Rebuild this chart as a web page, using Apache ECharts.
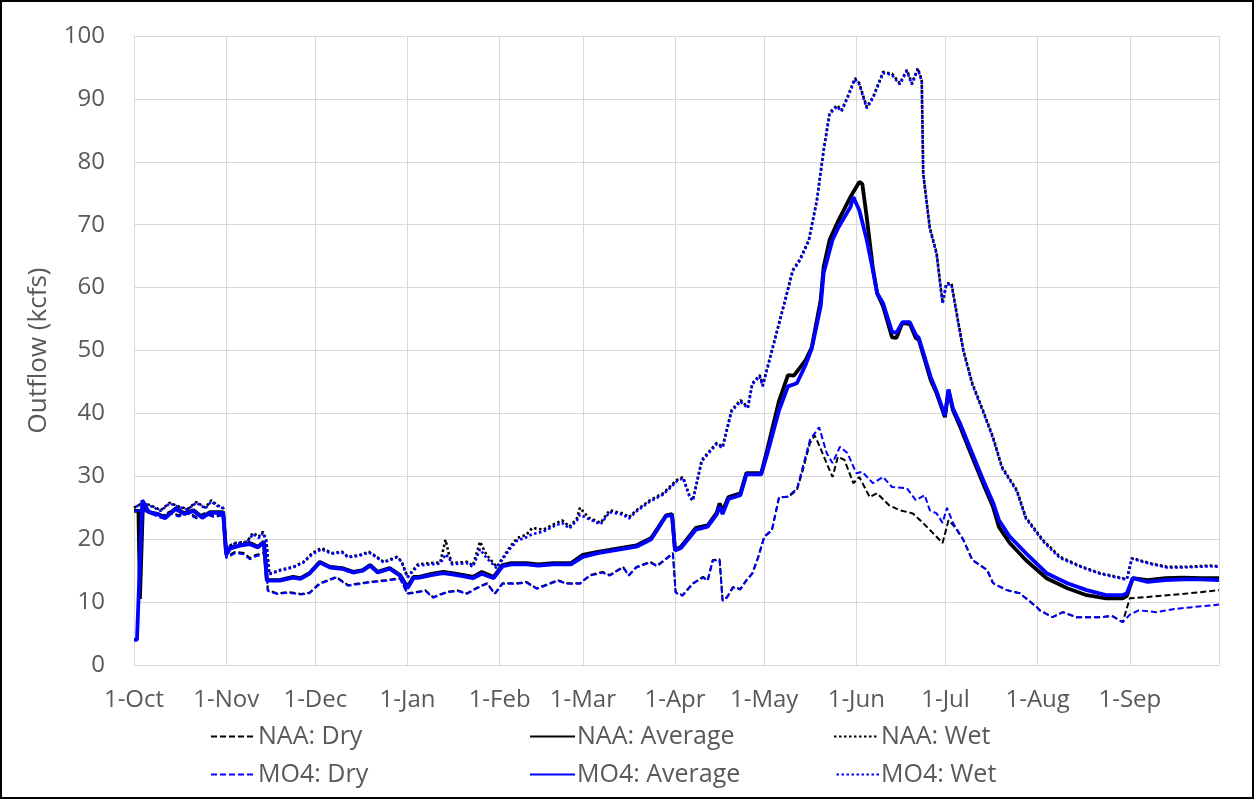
<!DOCTYPE html>
<html>
<head>
<meta charset="utf-8">
<title>Outflow</title>
<script src="https://cdn.jsdelivr.net/npm/echarts@6/dist/echarts.min.js"></script>
<style>
  html, body { margin: 0; padding: 0; background: #fff; }
  #chart { width: 1255px; height: 800px; }
</style>
</head>
<body>
<div id="chart"></div>
<script>
// month start positions (days after 1-Oct) and their labels
const monthDays = [0, 31, 61, 92, 123, 151, 182, 212, 243, 273, 304, 335, 365];
const monthLabels = ['1-Oct', '1-Nov', '1-Dec', '1-Jan', '1-Feb', '1-Mar', '1-Apr', '1-May', '1-Jun', '1-Jul', '1-Aug', '1-Sep', ''];

const seriesNames = ['NAA: Dry', 'NAA: Average', 'NAA: Wet', 'MO4: Dry', 'MO4: Average', 'MO4: Wet'];

// [day, kcfs]
const naaDry = [[0,24.5],[3,24.8],[6,24.2],[9,23.6],[12,24.4],[15,23.8],[18,24.3],[21,23.5],[24,24.2],[27,23.7],[30,24],[31,17.2],[34,18],[37,17.8],[39,17],[41,17.5],[43.4,17.8],[44.4,17.8],[45,11.9],[48,11.4],[52,11.6],[56,11.3],[59,11.5],[62.5,13],[68,14],[72,12.7],[79,13.2],[85,13.5],[89.5,13.8],[92,11.4],[95,11.6],[98,11.9],[100.6,10.8],[105,11.6],[108.6,11.9],[112,11.4],[115,12.2],[118.7,13],[121.4,11.4],[124,13],[129,13],[132,13.2],[135.5,12.2],[140,13],[142.5,13.5],[145.6,13],[150,13],[153.4,14.3],[157.7,14.8],[160,14.3],[164.5,15.6],[166.5,14.3],[169,15.6],[173.6,16.4],[176,15.8],[181.3,17.8],[182.2,11.6],[184.5,11.1],[188,13],[191.4,14],[193,13.5],[194.7,16.7],[197,16.8],[198,10.3],[199.5,10.8],[201.5,12.4],[204,12.1],[206,13.5],[208,14.6],[210,17.2],[212,20.4],[214.6,21.5],[217,26.7],[220,26.7],[223,27.8],[225,31],[227.4,35.3],[229,36.5],[230.7,34.7],[233,32.1],[235,29.9],[236.8,33.1],[239,32.6],[242,28.9],[244,29.9],[247.5,26.7],[250,27.3],[254,25.4],[257.6,24.6],[262,24.1],[265.4,22.6],[268.7,21],[272,19.4],[274,23],[276,22],[279,19.9],[282,16.7],[287,15.1],[289,13],[293.6,11.9],[298,11.4],[303.7,9.2],[304.7,8.7],[309,7.6],[312.5,8.4],[317,7.6],[325,7.6],[329,7.8],[332.6,6.8],[335,10.6],[341,10.8],[347.5,11.1],[355,11.4],[365,11.9]];

const naaAvg = [[0,24.5],[1.5,24.5],[2,10.5],[3,25.5],[5,24.3],[8,24],[10.4,23.5],[14,24.9],[17,24.1],[20,24.6],[23,23.5],[25.6,24.3],[30,24.3],[31,17.8],[32.3,18.6],[35.6,19],[39,19.4],[41.7,18.8],[43.7,19.6],[44.7,13.5],[49,13.5],[53.5,14],[56,13.8],[59,14.6],[62.5,16.4],[66,15.6],[70,15.4],[73.7,14.8],[77,15.1],[79.4,15.9],[82,14.8],[86,15.4],[89.5,14.3],[92,12.4],[94,14],[96,14],[100,14.5],[104,14.8],[107,14.6],[111,14.3],[114,14],[117,14.8],[121,14],[124,15.9],[127,16.2],[132,16.2],[136,16],[141,16.2],[147,16.2],[151,17.5],[156,18],[160,18.3],[165,18.7],[169,19],[174,20.2],[179,23.8],[181,24],[182,18.3],[184,18.8],[189,21.8],[193,22.2],[196,24.2],[197,25.7],[198,24.5],[200,26.7],[204,27.3],[206,30.5],[208,30.5],[211,30.5],[213,34.2],[217,42],[220,46.1],[222,46],[226,48.5],[228,50.5],[231,58],[232,63.3],[234,67.6],[237,70.7],[241,74.4],[244,76.8],[245,76.5],[246.5,71.2],[248.5,63.3],[250,59.1],[252,57],[255,52.1],[256.5,52],[258.5,54.4],[261,54.2],[263,52],[264,51.7],[268,45.3],[270,43.2],[272.8,39.4],[274,43.7],[275.5,40.5],[278,37.8],[281,34.2],[285.6,28.9],[289,25.1],[291,21.9],[294.6,19.4],[300,16.7],[307,13.8],[314,12.2],[320.5,11.1],[327,10.6],[332.6,10.6],[334,11],[336,13.8],[341,13.5],[347,13.8],[353,13.9],[359,13.8],[365,13.8]];

const naaWet = [[0,25],[3,25.8],[6,25.3],[9,24.6],[12,25.8],[15,25.2],[18,24.8],[21,25.9],[24,25],[26,26.2],[28,25.4],[30,25],[31,18.7],[34,19.4],[38,19.6],[40,21],[42,20.4],[43.4,21.2],[44.5,19.8],[45.5,14.5],[49,15.1],[53.5,15.6],[57,16.4],[60,17.8],[63,18.6],[66.5,17.8],[70,18],[72,17.2],[76,17.5],[79,18],[81,17.4],[84,16.4],[88.5,17.2],[90,16.5],[92,14],[95.5,16],[99.6,16.2],[103,16.3],[104.8,19.9],[106,17.5],[107,16.2],[112,16.4],[114,15.8],[116.4,19.6],[118.6,17.5],[122,15.6],[124,17],[126.5,18.8],[129,20.2],[132,20.7],[134,21.8],[137.6,21.5],[141,22.3],[144,23],[146.5,22],[149,23.3],[150,25],[153,23.4],[157,22.6],[160,24.6],[164.5,24.1],[166.5,23.5],[169,24.6],[173.6,26.2],[178,27.3],[182.6,29.4],[184.7,29.9],[187,26.7],[188,26.2],[191,32.6],[196,35.3],[198,34.7],[201,40.5],[204,42.1],[206.5,41],[208,44.8],[210.5,46.1],[211.5,44.5],[214,49],[217,54.4],[219.6,59.1],[221.6,62.8],[224,64.5],[227,67.6],[229.7,73.9],[232,81.9],[234,87.8],[236.5,89],[238,88.2],[240,90.3],[242.5,93.3],[244,92.5],[246.5,88.7],[248.6,90.3],[252,94.3],[255,94],[257.6,92.5],[260,94.6],[261.7,92.5],[263.7,94.9],[265,93],[265.5,78.2],[267.7,69.6],[270,65.5],[272,57.6],[273.3,60.7],[275,60.7],[277,55.3],[279,50.1],[282,44.8],[285.6,40.5],[289,36.2],[292,31.5],[297,27.8],[300,23.5],[305.7,19.9],[311.5,17.2],[319,15.6],[325,14.6],[332.6,13.8],[334,13.7],[335.7,17],[341.7,16.2],[347.5,15.6],[353,15.6],[362,15.8],[365,15.7]];

const mo4Dry = [[0,24.5],[3,24.6],[6,24],[9,23.4],[12,24.2],[15,23.6],[18,24.1],[21,23.3],[24,24],[27,23.5],[30,23.8],[31,17],[34,17.8],[37,17.6],[39,16.8],[41,17.3],[43.4,17.6],[44.4,17.6],[45,11.8],[48,11.3],[52,11.5],[56,11.2],[59,11.4],[62.5,12.9],[68,13.9],[72,12.6],[79,13.1],[85,13.4],[89.5,13.7],[92,11.3],[95,11.5],[98,11.8],[100.6,10.7],[105,11.5],[108.6,11.8],[112,11.3],[115,12.1],[118.7,12.9],[121.4,11.3],[124,12.9],[129,12.9],[132,13.1],[135.5,12.1],[140,12.9],[142.5,13.4],[145.6,12.9],[150,12.9],[153.4,14.2],[157.7,14.7],[160,14.2],[164.5,15.5],[166.5,14.2],[169,15.5],[173.6,16.3],[176,15.7],[181.3,17.7],[182.2,11.5],[184.5,11],[188,12.9],[191.4,13.9],[193,13.4],[194.7,16.6],[197,16.7],[198,10.2],[199.5,10.7],[201.5,12.3],[204,12],[206,13.4],[208,14.5],[210,17.1],[212,20.3],[214.6,21.4],[217,26.6],[220,26.8],[223,28],[225,31.5],[227.4,35.8],[230.5,37.8],[233,33.7],[235,32.1],[237.5,34.7],[240,33.7],[243,30.5],[245,30.7],[248.6,28.9],[252,29.9],[255,28.3],[260,28.1],[263,26.2],[266,27],[267.7,24.6],[270,24.1],[272,22.6],[273.5,25],[275.5,22.6],[279,19.9],[282,16.7],[287,15.1],[289,13],[293.6,11.9],[298,11.4],[303.7,9.2],[304.7,8.7],[309,7.6],[312.5,8.4],[317,7.6],[325,7.6],[329,7.8],[332.6,6.8],[335,8],[338,8.7],[344,8.4],[350,8.9],[356,9.2],[365,9.6]];

const mo4Avg = [[0,4],[1,4],[2.8,26.2],[5,24.3],[8,24],[10.4,23.3],[14,24.8],[17,24],[20,24.5],[23,23.4],[25.6,24.2],[30,24.2],[31,17.5],[32.3,18.5],[35.6,19],[39,19.2],[41.7,18.7],[43.7,19.5],[44.7,13.4],[49,13.4],[53.5,13.9],[56,13.7],[59,14.5],[62.5,16.3],[66,15.5],[70,15.3],[73.7,14.7],[77,15],[79.4,15.8],[82,14.7],[86,15.3],[89.5,14.2],[92,12.2],[94,13.8],[96,13.9],[100,14.3],[104,14.6],[107,14.4],[111,14.1],[114,13.8],[117,14.5],[121,13.8],[124,15.7],[127,16],[132,16],[136,15.8],[141,16],[147,16],[151,17.2],[156,17.8],[160,18.1],[165,18.5],[169,18.8],[174,20],[179,23.7],[181,23.8],[182,18.2],[184,18.6],[189,21.5],[193,22],[196,23.9],[197,25.2],[198,24],[200,26.4],[204,27],[206,30.3],[208,30.3],[211,30.3],[213,33.5],[217,40.5],[220,44.3],[223,44.8],[226,47.8],[228,50.3],[231,57],[232,62.3],[235,67.6],[237,69.6],[241,72.8],[242,74.4],[244,72.3],[246.5,67.6],[248.3,63.4],[250,59.1],[252,57.5],[255,53],[256.5,52.8],[258.5,54.5],[261,54.5],[263,52.5],[264,52],[268,45.8],[270,43.5],[272.8,39.6],[274,43.8],[275.5,40.8],[278,38.3],[281,34.8],[285.6,29.5],[289,25.8],[291,23],[294.6,20.4],[300,17.8],[307,14.6],[314,13],[320.5,11.9],[327,11.1],[332.6,11.1],[334,11.4],[336,13.8],[341,13.2],[347,13.5],[353,13.6],[359,13.6],[365,13.5]];

const mo4Wet = [[0,25],[3,25.7],[6,25.2],[9,24.5],[12,25.7],[15,25.1],[18,24.7],[21,25.8],[24,24.9],[26,26],[28,25.3],[30,24.9],[31,18.6],[34,19.3],[38,19.5],[40,20.8],[42,20.2],[43.4,21],[44.5,19.6],[45.5,14.4],[49,15],[53.5,15.5],[57,16.3],[60,17.6],[63,18.4],[66.5,17.7],[70,17.9],[72,17.1],[76,17.4],[79,17.9],[81,17.3],[84,16.3],[88.5,17.1],[90,16.4],[92,13.9],[95.5,15.8],[99.6,16],[103,16.1],[104.8,17.6],[106,17],[107,16],[112,16.2],[114,15.6],[116.4,18.4],[118.6,17],[122,15.4],[124,16.8],[126.5,18.5],[129,19.8],[132,20.3],[134,20.8],[137.6,21.2],[141,22],[144,22.6],[146.5,21.7],[149,23],[150,23.9],[153,23.2],[157,22.4],[160,24.3],[164.5,23.9],[166.5,23.3],[169,24.4],[173.6,26],[178,27.1],[182.6,29.2],[184.7,29.7],[187,26.6],[188,26.1],[191,32.4],[196,35.1],[198,34.5],[201,40.3],[204,41.9],[206.5,40.8],[208,44.6],[210.5,45.9],[211.5,44.3],[214,48.8],[217,54.2],[219.6,58.9],[221.6,62.6],[224,64.3],[227,67.4],[229.7,73.7],[232,81.7],[234,87.6],[236.5,88.8],[238,88],[240,90.1],[242.5,93.1],[244,92.3],[246.5,88.5],[248.6,90.1],[252,94.1],[255,93.8],[257.6,92.3],[260,94.4],[261.7,92.3],[263.7,94.7],[265,92.8],[265.5,78],[267.7,69.4],[270,65.3],[272,57.4],[273.3,60.5],[275,60.5],[277,55.1],[279,49.9],[282,44.6],[285.6,40.3],[289,36],[292,31.3],[297,27.6],[300,23.3],[305.7,19.7],[311.5,17],[319,15.5],[325,14.5],[332.6,13.7],[334,13.6],[335.7,16.9],[341.7,16.1],[347.5,15.5],[353,15.5],[362,15.7],[365,15.6]];

const seriesData = [naaDry, naaAvg, naaWet, mo4Dry, mo4Avg, mo4Wet];
const seriesColors = ['#000000', '#000000', '#000000', '#0000ff', '#0000ff', '#0000ff'];

const FONT = '"Open Sans", sans-serif';
const GREY = '#595959';

function lineStyleFor(i) {
    const kind = i % 3;
    if (kind === 0) return { width: 2, type: [6, 3] };
    if (kind === 1) return { width: 3.8, type: 'solid' };
    // wet lines overlap, so offset the blue dots to sit between the black ones
    return { width: 2.6, type: [2.5, 2.5], dashOffset: i < 3 ? 0 : 2.5 };
}

const chart = echarts.init(document.getElementById('chart'));

const series = seriesNames.map((name, i) => ({
    name: name,
    type: 'line',
    data: seriesData[i],
    showSymbol: false,
    symbol: 'none',
    color: seriesColors[i],
    lineStyle: Object.assign({ color: seriesColors[i] }, lineStyleFor(i)),
    emphasis: { disabled: true },
    z: i < 3 ? 2 : 3
}));

const legendBase = {
    orient: 'vertical',
    top: 719,
    itemWidth: 45,
    itemHeight: 20,
    itemGap: 13,
    itemStyle: { opacity: 0 },
    textStyle: { color: GREY, fontSize: 25, fontFamily: FONT, padding: [0, 0, 0, -3] },
    selectedMode: false
};

const option = {
    animation: false,
    backgroundColor: '#ffffff',
    grid: { left: 134, right: 36, top: 36, bottom: 135, containLabel: false },
    xAxis: {
        type: 'value',
        min: 0,
        max: 365,
        axisLine: { show: true, lineStyle: { color: '#d9d9d9' } },
        axisTick: { show: false, customValues: monthDays },
        axisLabel: {
            customValues: monthDays.slice(0, 12),
            color: GREY,
            fontSize: 24,
            fontFamily: FONT,
            margin: 23,
            formatter: function (v) {
                const idx = monthDays.indexOf(Math.round(v));
                return idx >= 0 ? monthLabels[idx] : '';
            }
        },
        splitLine: { show: true, lineStyle: { color: '#d9d9d9', width: 1 } }
    },
    yAxis: {
        type: 'value',
        min: 0,
        max: 100,
        interval: 10,
        name: 'Outflow (kcfs)',
        nameLocation: 'middle',
        nameGap: 82,
        nameTextStyle: { color: GREY, fontSize: 26, fontFamily: FONT },
        axisLine: { show: true, lineStyle: { color: '#d9d9d9' } },
        axisTick: { show: false },
        axisLabel: { color: GREY, fontSize: 24, fontFamily: FONT, margin: 29 },
        splitLine: { show: true, lineStyle: { color: '#d9d9d9', width: 1 } }
    },
    legend: [
        Object.assign({ left: 205, data: ['NAA: Dry', 'MO4: Dry'] }, legendBase),
        Object.assign({ left: 524, data: ['NAA: Average', 'MO4: Average'] }, legendBase),
        Object.assign({ left: 828, data: ['NAA: Wet', 'MO4: Wet'] }, legendBase)
    ],
    graphic: [{
        type: 'rect',
        shape: { x: 1, y: 1, width: 1252, height: 797 },
        style: { fill: 'none', stroke: '#000', lineWidth: 2 },
        silent: true
    }],
    series: series
};

chart.setOption(option);
window.addEventListener('resize', () => chart.resize());
</script>
</body>
</html>
